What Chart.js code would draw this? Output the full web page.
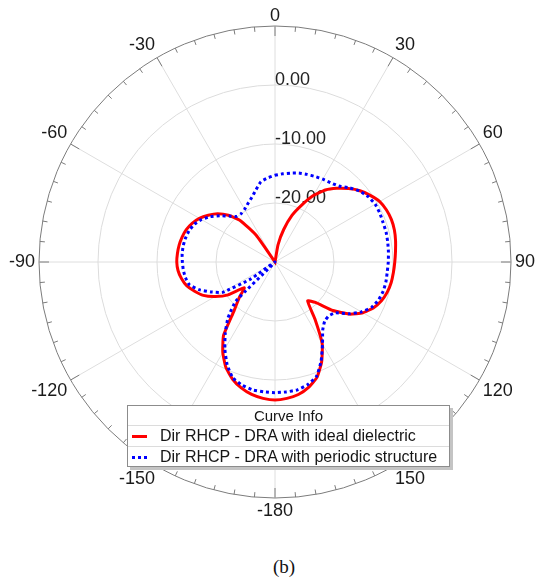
<!DOCTYPE html>
<html>
<head>
<meta charset="utf-8">
<script src="https://cdn.jsdelivr.net/npm/chart.js@4.4.1/dist/chart.umd.min.js"></script>
<style>
  html, body { margin: 0; padding: 0; background: #fff; overflow: hidden; }
  #page { position: relative; width: 536px; height: 579px; overflow: hidden; background: #fff; }
  #wrap { position: absolute; left: 5px; top: 0; width: 536px; height: 521px; }
  #legend { position: absolute; left: 127px; top: 405px; width: 323px; height: 62px; box-sizing: border-box;
            background: #fff; border: 1px solid #8c8c8c; box-shadow: 3px 3px 0 #c4c4c4;
            font-family: Arial, "Liberation Sans", sans-serif; color: #151515; }
  #legend .title { height: 19px; line-height: 19px; font-size: 15px; text-align: center; border-bottom: 1px solid #dcdcdc; }
  #legend .row { position: relative; height: 20px; line-height: 20px; font-size: 16px; padding-left: 32px; white-space: nowrap; }
  #legend .row + .row { border-top: 1px solid #dcdcdc; }
  #legend .sample { position: absolute; left: 4px; top: 9px; width: 15px; height: 3px; }
  #caption { position: absolute; left: 0; width: 568px; top: 556px; text-align: center;
             font-family: "Liberation Serif", "Times New Roman", serif; font-size: 19px; color: #111; }
</style>
</head>
<body>
<div id="page">
  <div id="wrap"><canvas id="c"></canvas></div>
  <div id="legend"></div>
  <div id="caption">(b)</div>
</div>
<script>
// Angle categories (degrees, clockwise from top)
const angles = [0,5,10,15,20,25,30,35,40,45,50,55,60,65,70,75,80,85,90,95,100,105,110,115,
                120,125,130,135,140,145,150,155,160,165,170,175,180,185,190,195,200,205,210,215,
                220,225,230,235,240,245,250,255,260,265,270,275,280,285,290,295,300,305,310,315,
                320,325,330,335,340,345,350,355];

// Dir RHCP (dB) – DRA with ideal dielectric
const idealDielectric = [-30,-30,-27.0,-24.3,-21.6,-19.4,-17.0,-15.1,-13.7,-12.4,-11.2,-10.3,
                         -9.5,-9.15,-9.0,-9.05,-9.25,-9.5,-9.7,-9.85,-10.0,-10.3,-10.8,-11.6,
                         -12.8,-14.6,-17.2,-20.3,-21.4,-18.2,-14.0,-11.3,-9.2,-8.0,-7.2,-6.8,
                         -6.6,-6.8,-7.2,-7.9,-8.9,-10.3,-12.3,-14.8,-19.2,-21.4,-23.2,-20.3,
                         -18.3,-16.6,-15.5,-14.5,-13.9,-13.5,-13.35,-13.4,-13.5,-13.7,-14.0,-14.5,
                         -15.2,-16.2,-17.3,-18.8,-20.8,-24.5,-30,-30,-30,-30,-30,-30];

// Dir RHCP (dB) – DRA with periodic structure
const periodicStructure = [-15.3,-15.0,-14.7,-14.4,-14.2,-14.0,-13.8,-13.6,-13.2,-12.2,-11.3,-10.7,
                           -10.4,-10.4,-10.5,-10.5,-10.6,-10.7,-10.8,-10.9,-10.9,-11.0,-11.3,-11.9,
                           -13.1,-14.7,-16.6,-17.1,-16.9,-15.9,-13.9,-11.5,-9.4,-8.5,-8.0,-7.9,
                           -7.85,-7.9,-8.0,-8.4,-9.1,-10.8,-13.0,-15.3,-17.6,-20.6,-30,-25.0,
                           -19.7,-18.0,-16.3,-15.0,-14.6,-14.4,-14.3,-14.2,-14.2,-14.3,-14.5,-14.9,
                           -15.6,-16.6,-17.8,-19.0,-19.9,-20.0,-19.7,-19.1,-18.4,-17.4,-16.2,-15.7];

const seriesNames = ['Dir RHCP - DRA with ideal dielectric', 'Dir RHCP - DRA with periodic structure'];
const ringTicks = [-20, -10, 0];
const radialMin = -30, radialMax = 10;

const FONT = 'Arial, "Liberation Sans", sans-serif';

function angleText(a) {
  if (a % 30 !== 0) return '';
  if (a === 180) return '-180';
  return String(a > 180 ? a - 360 : a);
}

const decor = {
  id: 'polarDecor',
  beforeDatasetsDraw(chart) {
    const s = chart.scales.r, ctx = chart.ctx;
    ctx.save();
    const D = s.getDistanceFromCenterForValue(radialMax);
    ctx.strokeStyle = '#7c7c7c';
    ctx.lineWidth = 1;
    for (let i = 0; i < angles.length; i++) {
      const len = angles[i] % 30 === 0 ? 10 : 5;
      const p1 = s.getPointPosition(i, D);
      const p2 = s.getPointPosition(i, D - len);
      ctx.beginPath(); ctx.moveTo(p1.x, p1.y); ctx.lineTo(p2.x, p2.y); ctx.stroke();
    }
    ctx.font = '18px ' + FONT;
    ctx.fillStyle = '#222';
    ctx.textAlign = 'left';
    ctx.textBaseline = 'alphabetic';
    ringTicks.forEach(v => {
      const d = s.getDistanceFromCenterForValue(v);
      ctx.fillText(v.toFixed(2), s.xCenter, s.yCenter - d);
    });
    ctx.restore();
  }
};

const chart = new Chart(document.getElementById('c'), {
  type: 'radar',
  data: {
    labels: angles,
    datasets: [
      { label: seriesNames[0], data: idealDielectric, borderColor: '#ff0000', borderWidth: 3,
        fill: false, pointRadius: 0, pointHitRadius: 0, tension: 0.15, order: 2 },
      { label: seriesNames[1], data: periodicStructure, borderColor: '#0000ff', borderWidth: 3,
        borderDash: [3, 3], fill: false, pointRadius: 0, pointHitRadius: 0, tension: 0.15, order: 1 }
    ]
  },
  options: {
    responsive: true,
    maintainAspectRatio: false,
    animation: false,
    devicePixelRatio: 1,
    layout: { padding: { top: 5, bottom: 0, left: 0, right: 0 } },
    plugins: { legend: { display: false }, tooltip: { enabled: false }, title: { display: false } },
    scales: {
      r: {
        min: radialMin,
        max: radialMax,
        ticks: { display: false, stepSize: 10 },
        grid: {
          circular: true,
          color: ctx => (ctx.tick && ctx.tick.value === radialMax) ? '#7c7c7c' : '#dcdcdc',
          lineWidth: 1
        },
        angleLines: {
          color: '#dedede',
          lineWidth: ctx => (angles[ctx.index] % 30 === 0 ? 1 : 0)
        },
        pointLabels: {
          padding: ctx => (ctx.index === 0 ? 1 : 4),
          color: '#1a1a1a',
          font: { size: 18, family: FONT, lineHeight: 1 },
          callback: (label) => angleText(Number(label))
        }
      }
    }
  },
  plugins: [decor]
});

// Legend box built from the dataset definitions
const lg = document.getElementById('legend');
let html = '<div class="title">Curve Info</div>';
chart.data.datasets.forEach((ds, i) => {
  const bg = i === 0 ? 'background:#ff0000;' :
    'background:repeating-linear-gradient(90deg,#0000ff 0 3px,transparent 3px 6px);';
  html += '<div class="row"><span class="sample" style="' + bg + '"></span>' + ds.label + '</div>';
});
lg.innerHTML = html;
</script>
</body>
</html>
